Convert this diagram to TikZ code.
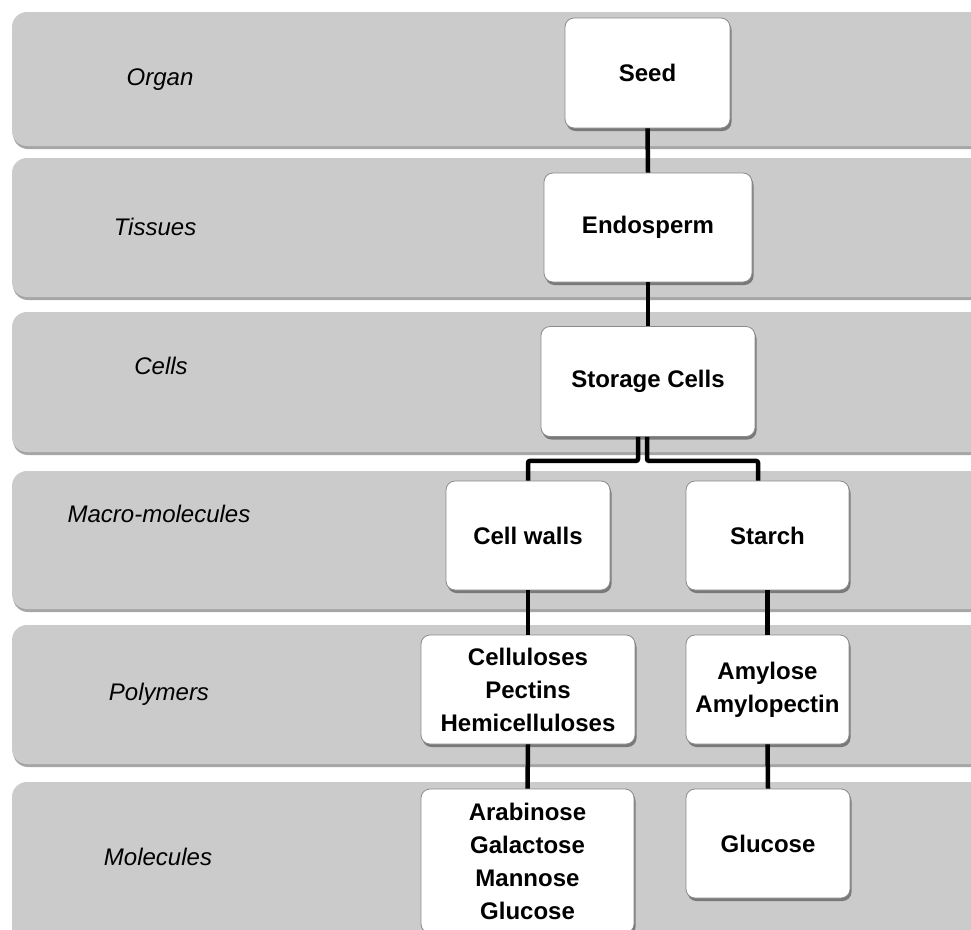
\documentclass[tikz,border=0pt]{standalone}
\usepackage{fontspec}
\setmainfont{Liberation Sans}
\usetikzlibrary{shadows}
\definecolor{bandgray}{HTML}{CBCBCB}
\definecolor{boxborder}{HTML}{8A8A8A}
\tikzset{
  band/.style={fill=bandgray, rounded corners=15pt,
    drop shadow={shadow xshift=1pt, shadow yshift=-3pt, opacity=0.35, fill=black}},
  lvl/.style={font=\fontsize{24}{30}\selectfont\itshape, inner sep=0pt},
  cbox/.style={draw=boxborder, line width=0.8pt, fill=white, rounded corners=9pt,
    align=center, inner sep=0pt, font=\fontsize{24}{33}\selectfont\bfseries,
    drop shadow={shadow xshift=1.5pt, shadow yshift=-3pt, opacity=0.4, fill=black}},
  conn/.style={line width=4.5pt, black, rounded corners=2pt}
}
\begin{document}
\begin{tikzpicture}[x=1pt,y=-1pt]
\useasboundingbox (0,0) rectangle (971,929);
\clip (0,0) rectangle (971,929);
% bands
\path[band] (12,12) rectangle (1000,146);
\path[band] (12,158) rectangle (1000,297);
\path[band] (12,312) rectangle (1000,452);
\path[band] (12,471) rectangle (1000,609);
\path[band] (12,625) rectangle (1000,764);
\path[band] (12,782) rectangle (1000,980);
% level labels
\node[lvl] (lorgan) at (160,80) {Organ};
\node[lvl] (ltiss) at (155,227) {Tissues};
\node[lvl] (lcells) at (161,366) {Cells};
\node[lvl] (lmacro) at (159,514) {Macro-molecules};
\node[lvl] (lpoly) at (159,694) {Polymers};
\node[lvl] (lmol) at (158,857) {Molecules};
% boxes
\node[cbox, minimum width=165pt, minimum height=110pt] (seed) at (647.5,73) {Seed};
\node[cbox, minimum width=208pt, minimum height=109pt] (endo) at (648,227.5) {Endosperm};
\node[cbox, minimum width=214pt, minimum height=110pt] (stor) at (648,381.5) {Storage Cells};
\node[cbox, minimum width=164pt, minimum height=109pt] (cw) at (528,535.5) {Cell walls};
\node[cbox, minimum width=163pt, minimum height=109pt] (starch) at (767.5,535.5) {Starch};
\node[cbox, minimum width=214pt, minimum height=109pt] (polyl) at (528,689.5) {Celluloses\\Pectins\\Hemicelluloses};
\node[cbox, minimum width=163pt, minimum height=109pt] (polyr) at (767.5,689.5) {Amylose\\Amylopectin};
\node[cbox, minimum width=213pt, minimum height=144pt] (moll) at (527.5,861) {Arabinose\\Galactose\\Mannose\\Glucose};
\node[cbox, minimum width=164pt, minimum height=109pt] (molr) at (768,843.5) {Glucose};
% connectors
\draw[conn] (seed.south) -- (endo.north);
\draw[conn] (endo.south) -- (stor.north);
\draw[conn] ([xshift=-10pt]stor.south) -- ++(0,24) -| (cw.north);
\draw[conn] ([xshift=-1pt]stor.south) -- ++(0,24) -| ([xshift=-9.5pt]starch.north);
\draw[conn] (cw.south) -- (polyl.north);
\draw[conn] (starch.south) -- (polyr.north);
\draw[conn] (polyl.south) -- (moll.north);
\draw[conn] (polyr.south) -- (molr.north);
\end{tikzpicture}
\end{document}
